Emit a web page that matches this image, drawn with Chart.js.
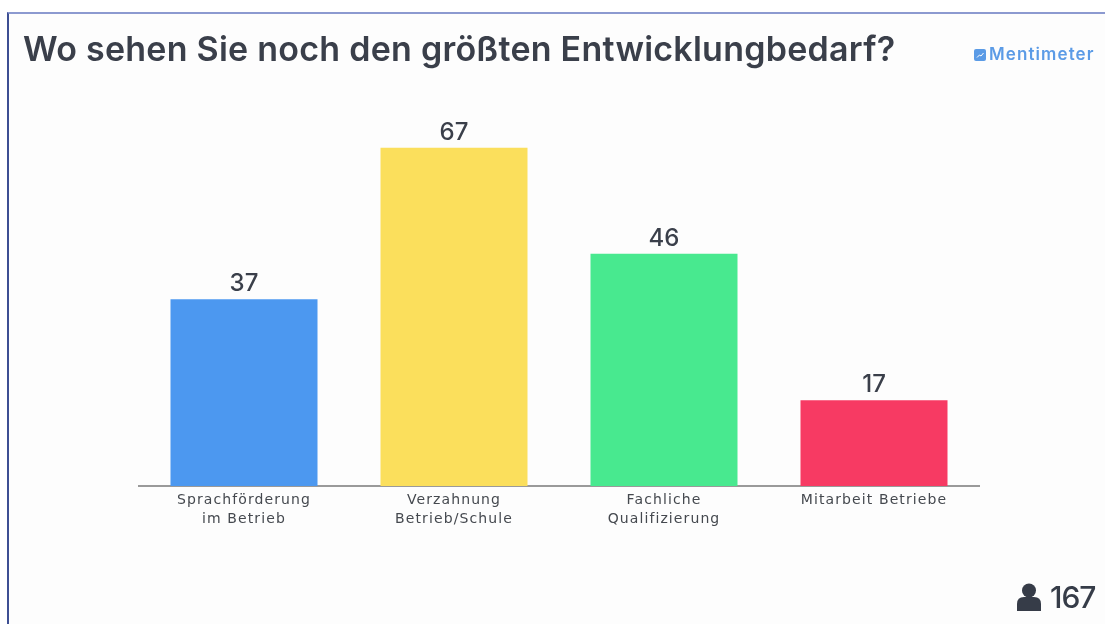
<!DOCTYPE html>
<html lang="de">
<head>
<meta charset="utf-8">
<title>Entwicklungsbedarf</title>
<script src="https://cdn.jsdelivr.net/npm/chart.js@4"></script>
<style>
    html, body { margin: 0; padding: 0; background: #fff; }
    #wrap { position: relative; width: 1105px; height: 624px; overflow: hidden; background: #fff; font-family: Inter, sans-serif; }
    #frame { position: absolute; left: 7px; top: 12px; right: -5px; bottom: -5px; background: #fdfdfd; border-top: 2px solid #8c9ad0; border-left: 2px solid #3d4f93; }
    #chart { position: absolute; left: 0; top: 0; filter: blur(0.3px); }
    #title { position: absolute; left: 23px; top: 28px; font-size: 34px; font-weight: 600; letter-spacing: 0.25px; color: #3a3f4a; white-space: nowrap; filter: blur(0.5px); }
    #brand { position: absolute; left: 974px; top: 44px; font-size: 17px; font-weight: 600; letter-spacing: 1.1px; color: #5b9be6; white-space: nowrap; filter: blur(0.7px); }
    #brand svg { vertical-align: -1px; margin-right: 3px; }
    #count { position: absolute; left: 1016px; top: 579px; font-size: 30px; font-weight: 500; letter-spacing: -1px; color: #363c48; white-space: nowrap; filter: blur(0.5px); }
    #count svg { vertical-align: -3px; margin-right: 8px; }
</style>
</head>
<body>
<div id="wrap">
    <div id="frame"></div>
    <canvas id="chart" width="1105" height="624"></canvas>
    <div id="title">Wo sehen Sie noch den größten Entwicklungbedarf?</div>
    <div id="brand"><svg width="12" height="12" viewBox="0 0 12 12"><rect width="12" height="12" rx="2" fill="#5b9be6"/><path d="M3 8.5 L5.5 6 L7 7 L9.5 4" stroke="#fff" fill="none"/></svg>Mentimeter</div>
    <div id="count"><svg width="26" height="28" viewBox="0 0 26 28"><circle cx="13" cy="7.5" r="7" fill="#363c48"/><path d="M1 28 V21 Q1 14 8 14 H18 Q25 14 25 21 V28 Z" fill="#363c48"/></svg>167</div>
</div>
<script>
// 資料
const categories = [
    ['Sprachförderung', 'im Betrieb'],
    ['Verzahnung', 'Betrieb/Schule'],
    ['Fachliche', 'Qualifizierung'],
    'Mitarbeit Betriebe'
];
const votes = [37, 67, 46, 17];
const barColors = ['#4c98f0', '#fbdf5c', '#48e98f', '#f73a63'];

// 柱狀圖上方的數值
const valueLabels = {
    id: 'valueLabels',
    beforeDraw(chart) {
        // 軸標籤字距
        chart.ctx.letterSpacing = '1.1px';
    },
    afterDatasetsDraw(chart) {
        const ctx = chart.ctx;
        const bars = chart.getDatasetMeta(0).data;
        ctx.save();
        ctx.letterSpacing = '0px';
        ctx.font = '500 24px Inter, sans-serif';
        ctx.fillStyle = '#3a3f4a';
        ctx.textAlign = 'center';
        ctx.textBaseline = 'alphabetic';
        bars.forEach((bar, i) => {
            ctx.fillText(votes[i], bar.x, bar.y - 8);
        });
        ctx.restore();
    }
};

new Chart(document.getElementById('chart'), {
    type: 'bar',
    data: {
        labels: categories,
        datasets: [{
            data: votes,
            backgroundColor: barColors,
            borderWidth: 0,
            categoryPercentage: 1,
            barPercentage: 0.7
        }]
    },
    options: {
        responsive: false,
        animation: false,
        layout: { padding: { left: 139, right: 126, top: 82, bottom: 0 } },
        plugins: { legend: { display: false }, tooltip: { enabled: false } },
        scales: {
            x: {
                afterFit(scale) { scale.height = 138; },
                grid: { display: false },
                border: { color: '#9a9a9a', width: 2 },
                ticks: {
                    color: '#45494f',
                    padding: -3,
                    maxRotation: 0,
                    font: { family: 'DejaVu Sans, sans-serif', size: 14, lineHeight: 1.36 }
                }
            },
            y: { display: false, min: 0, max: 80 }
        }
    },
    plugins: [valueLabels]
});
</script>
</body>
</html>
